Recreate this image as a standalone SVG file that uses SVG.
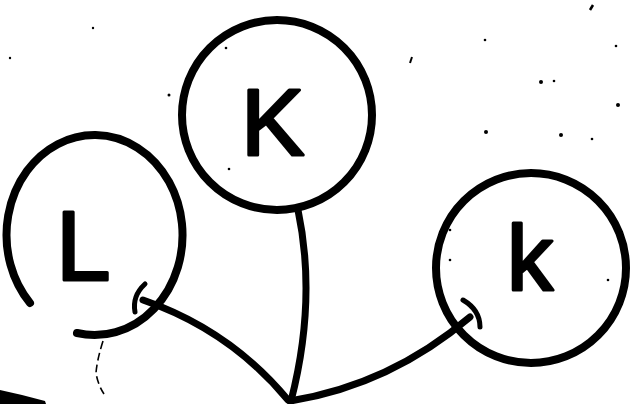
<svg xmlns="http://www.w3.org/2000/svg" width="634" height="404" viewBox="0 0 634 404">
  <style>
    .ring { fill: none; stroke: #000; stroke-width: 8; stroke-linecap: round; }
    .edge { fill: none; stroke: #000; stroke-width: 7; stroke-linecap: round; }
    .tick { fill: none; stroke: #000; stroke-width: 5; stroke-linecap: round; }
    .label { font-family: "Liberation Sans", Arial, sans-serif; fill: #000; stroke: #000; stroke-width: 3; stroke-linejoin: round; }
    .speck { fill: #000; }
  </style>
  <rect width="634" height="404" fill="#fff"/>

  <g id="connectors">
    <path class="edge" d="M143,300 Q230,330 288,400"/>
    <path class="edge" d="M298,210 Q317,300 291,401"/>
    <path class="edge" d="M470,317 Q390,385 290,401"/>
    <path class="tick" d="M145,284 Q132,296 135,312"/>
    <path class="tick" d="M463,300 Q480,310 480,327"/>
  </g>

  <g id="node-L">
    <path class="ring" d="M77,333 A88,100 0 1 0 30,303"/>
    <text class="label" x="56" y="280" font-size="98">L</text>
  </g>

  <g id="node-K">
    <circle class="ring" cx="277" cy="115" r="95"/>
    <text class="label" x="241" y="155" font-size="95">K</text>
  </g>

  <g id="node-k">
    <circle class="ring" cx="531" cy="268" r="95"/>
    <text class="label" x="507" y="290" font-size="92">k</text>
  </g>

  <g id="marks">
    <path d="M0,390 L22,395 L45,401 L46,404 L0,404 Z" fill="#000"/>
    <path d="M103,341 Q97,360 96,373 Q98,385 104,394" fill="none" stroke="#000" stroke-width="1.6" stroke-dasharray="8 4"/>
    <circle class="speck" cx="541" cy="82" r="2"/>
    <circle class="speck" cx="561" cy="135" r="2"/>
    <circle class="speck" cx="486" cy="132" r="2"/>
    <circle class="speck" cx="618" cy="105" r="2"/>
    <circle class="speck" cx="554" cy="81" r="1.3"/>
    <circle class="speck" cx="592" cy="139" r="1.3"/>
    <circle class="speck" cx="485" cy="40" r="1.3"/>
    <circle class="speck" cx="616" cy="46" r="1.3"/>
    <circle class="speck" cx="169" cy="95" r="1.5"/>
    <circle class="speck" cx="93" cy="28" r="1.2"/>
    <circle class="speck" cx="10" cy="58" r="1.2"/>
    <circle class="speck" cx="226" cy="48" r="1.3"/>
    <circle class="speck" cx="229" cy="169" r="1.3"/>
    <circle class="speck" cx="450" cy="230" r="1.3"/>
    <circle class="speck" cx="608" cy="280" r="1.3"/>
    <circle class="speck" cx="450" cy="260" r="1.3"/>
    <path d="M410,63 L412,57" stroke="#000" stroke-width="2"/>
    <path d="M590,10 L593,5" stroke="#000" stroke-width="2.5"/>
  </g>
</svg>
